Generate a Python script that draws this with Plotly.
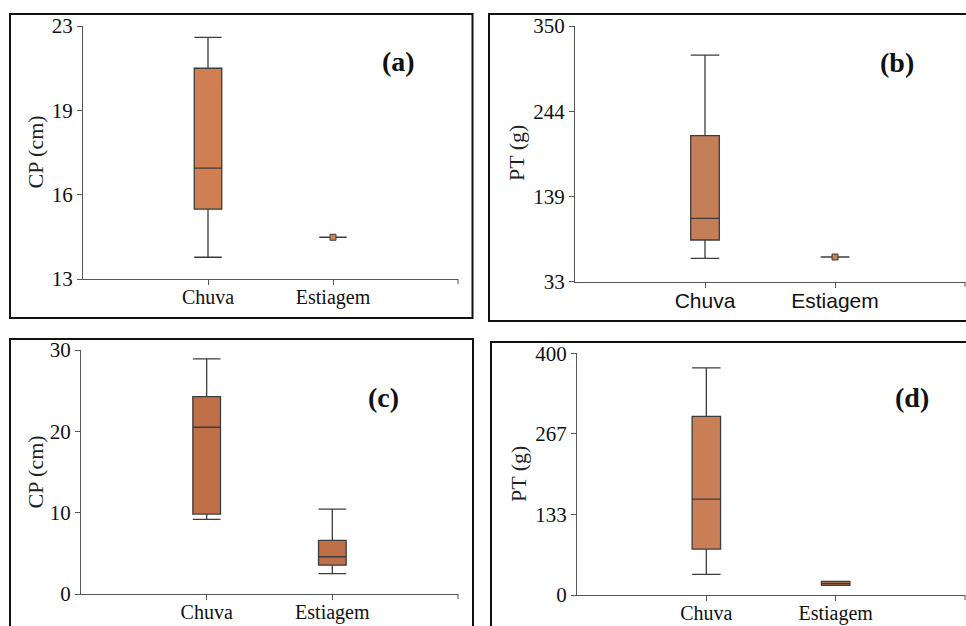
import plotly.graph_objects as go

W, H = 966, 626

categories = ["Chuva", "Estiagem"]

# (a) CP (cm)
a_lower = [13.86, 14.65]
a_q1 = [15.76, 14.65]
a_median = [17.38, 14.65]
a_q3 = [21.33, 14.65]
a_upper = [22.55, 14.65]
a_ticks = [13, 16.333, 19.667, 23]
a_ticktext = ["13", "16", "19", "23"]

# (b) PT (g)
b_lower = [62.0, 63.6]
b_q1 = [84.7, 63.6]
b_median = [111.6, 63.6]
b_q3 = [214.0, 63.6]
b_upper = [314.0, 63.6]
b_ticks = [33, 138.667, 244.333, 350]
b_ticktext = ["33", "139", "244", "350"]

# (c) CP (cm)
c_lower = [9.17, 2.5]
c_q1 = [9.83, 3.55]
c_median = [20.5, 4.58]
c_q3 = [24.26, 6.6]
c_upper = [28.9, 10.44]
c_ticks = [0, 10, 20, 30]
c_ticktext = ["0", "10", "20", "30"]

# (d) PT (g)
d_lower = [34.0, 16.0]
d_q1 = [76.0, 16.0]
d_median = [158.8, 19.0]
d_q3 = [295.7, 22.5]
d_upper = [376.0, 22.5]
d_ticks = [0, 133.333, 266.667, 400]
d_ticktext = ["0", "133", "267", "400"]

SERIF = "Liberation Serif"
SANS = "Liberation Sans"

panels = [
    dict(name="a", lo=a_lower, q1=a_q1, med=a_median, q3=a_q3, hi=a_upper,
         ticks=a_ticks, ticktext=a_ticktext, fill="#CF7F52", xfont=SERIF,
         dom_px=(83, 458, 26, 279), title="CP (cm)", title_px=(35, 152.5),
         label="(a)", label_px=(398, 62), frame=(10, 472.5, 14, 318), dot=True),
    dict(name="b", lo=b_lower, q1=b_q1, med=b_median, q3=b_q3, hi=b_upper,
         ticks=b_ticks, ticktext=b_ticktext, fill="#C47F58", xfont=SANS,
         dom_px=(575, 965, 26, 281.7), title="PT (g)", title_px=(516.5, 153.5),
         label="(b)", label_px=(896.5, 62.5), frame=(489, 975, 14, 321), dot=True),
    dict(name="c", lo=c_lower, q1=c_q1, med=c_median, q3=c_q3, hi=c_upper,
         ticks=c_ticks, ticktext=c_ticktext, fill="#C07048", xfont=SERIF,
         dom_px=(81, 458, 350, 594), title="CP (cm)", title_px=(34.5, 472),
         label="(c)", label_px=(383, 397.5), frame=(10, 473, 339, 640), dot=False),
    dict(name="d", lo=d_lower, q1=d_q1, med=d_median, q3=d_q3, hi=d_upper,
         ticks=d_ticks, ticktext=d_ticktext, fill="#C98057", xfont=SERIF,
         dom_px=(577, 965, 353.3, 595), title="PT (g)", title_px=(518, 474),
         label="(d)", label_px=(912, 397), frame=(491, 975, 342, 640), dot=False),
]

fig = go.Figure()
layout = dict(
    width=W, height=H,
    margin=dict(l=0, r=0, t=0, b=0, autoexpand=False),
    paper_bgcolor="white", plot_bgcolor="rgba(0,0,0,0)",
    showlegend=False,
    annotations=[], shapes=[],
)

def px_x(v):
    return v / W

def px_y(v):
    return 1 - v / H

for i, p in enumerate(panels):
    idx = "" if i == 0 else str(i + 1)
    xa, ya = "x" + idx, "y" + idx
    fig.add_trace(go.Box(
        x=categories, lowerfence=p["lo"], q1=p["q1"], median=p["med"],
        q3=p["q3"], upperfence=p["hi"],
        fillcolor=p["fill"], line=dict(color="#3c3c3c", width=1.3),
        width=0.22, whiskerwidth=1, boxpoints=False, hoverinfo="skip",
        xaxis=xa, yaxis=ya,
    ))
    if p["dot"]:
        fig.add_trace(go.Scatter(
            x=[categories[1]], y=[p["med"][1]], mode="markers",
            marker=dict(symbol="square", size=6, color=p["fill"],
                        line=dict(color="#3c3c3c", width=1)),
            hoverinfo="skip", xaxis=xa, yaxis=ya,
        ))
    x0, x1, ytop, ybot = p["dom_px"]
    layout["xaxis" + idx] = dict(
        domain=[px_x(x0), px_x(x1)], anchor=ya, type="category",
        range=[-1, 2], showgrid=False, zeroline=False, automargin=False,
        showline=True, linecolor="#555", linewidth=1.3,
        ticks="outside", ticklen=5, tickcolor="#555", tickwidth=1,
        ticklabelstandoff=-5,
        tickfont=dict(family=p["xfont"], size=20 if p["xfont"] == SERIF else 21, color="#111"),
    )
    layout["yaxis" + idx] = dict(
        domain=[px_y(ybot), px_y(ytop)], anchor=xa, automargin=False,
        range=[p["ticks"][0], p["ticks"][-1]],
        tickvals=p["ticks"], ticktext=p["ticktext"],
        showgrid=False, zeroline=False,
        showline=True, linecolor="#555", linewidth=1.3,
        ticks="outside", ticklen=5, tickcolor="#555", tickwidth=1,
        tickfont=dict(family=SERIF, size=21, color="#111"),
    )
    # end tick at right end of x axis
    layout["shapes"].append(dict(
        type="line", xref=xa + " domain", yref="paper",
        x0=1, x1=1, y0=px_y(ybot), y1=px_y(ybot + 5),
        line=dict(color="#555", width=1),
    ))
    # axis title
    tx, ty = p["title_px"]
    layout["annotations"].append(dict(
        text=p["title"], xref="paper", yref="paper", x=px_x(tx), y=px_y(ty),
        xanchor="center", yanchor="middle", textangle=-90, showarrow=False,
        font=dict(family=SERIF, size=22, color="#222"),
    ))
    # panel label
    lx, ly = p["label_px"]
    layout["annotations"].append(dict(
        text="<b>" + p["label"] + "</b>", xref="paper", yref="paper",
        x=px_x(lx), y=px_y(ly), xanchor="center", yanchor="middle",
        showarrow=False, font=dict(family=SERIF, size=28, color="#111"),
    ))
    # frame
    fx0, fx1, fy0, fy1 = p["frame"]
    layout["shapes"].append(dict(
        type="rect", xref="paper", yref="paper",
        x0=px_x(fx0), x1=px_x(fx1), y0=px_y(fy1), y1=px_y(fy0),
        line=dict(color="#111", width=2), fillcolor="rgba(0,0,0,0)", layer="below",
    ))

fig.update_layout(**layout)

pin_script = (
    "document.documentElement.style.margin='0';"
    "document.body.style.margin='0';"
    "document.body.style.overflow='hidden';"
    "var gd=document.getElementById('{plot_id}');"
    "gd.style.position='fixed';gd.style.left='0px';gd.style.top='0px';"
)
fig.write_html("out.html", post_script=pin_script,
               config={"displayModeBar": False})
